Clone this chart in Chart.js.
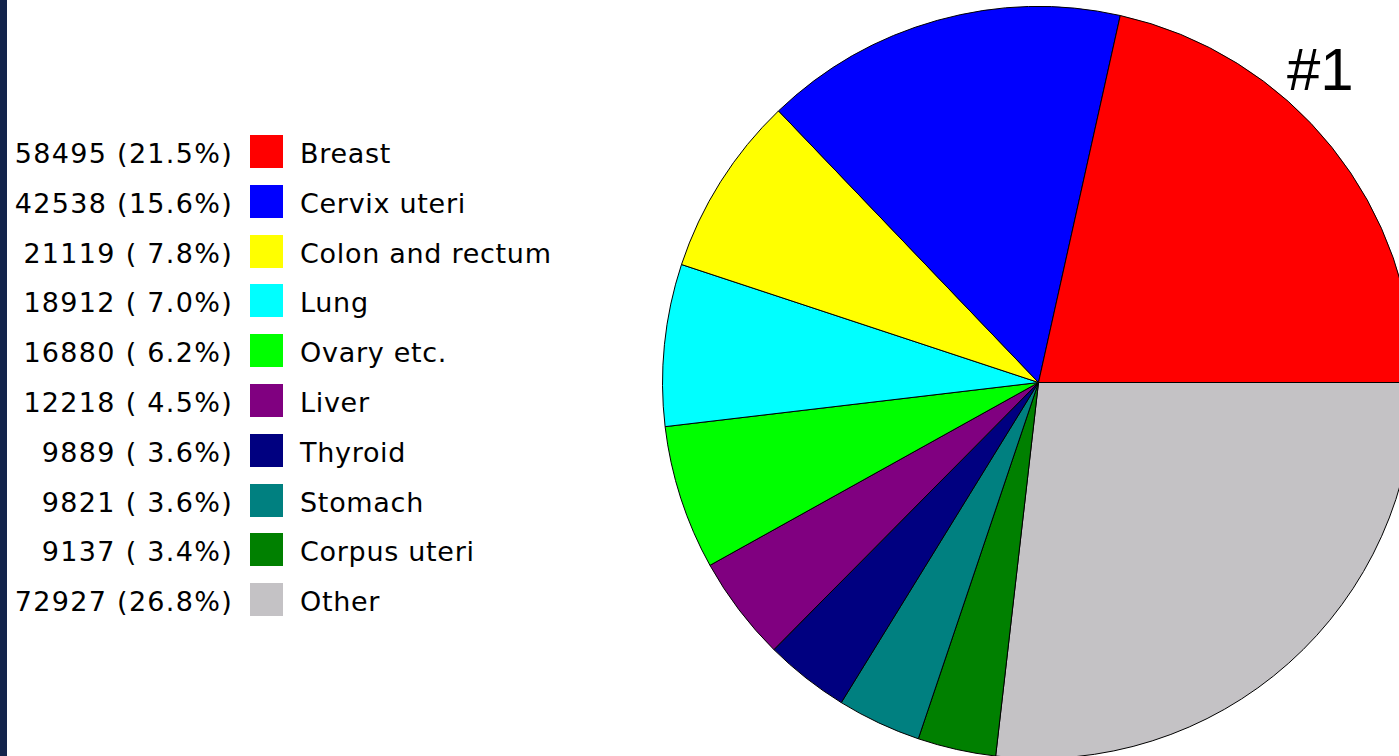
<!DOCTYPE html>
<html>
<head>
<meta charset="utf-8">
<script src="https://cdn.jsdelivr.net/npm/chart.js@4/dist/chart.umd.min.js"></script>
<style>
  html, body { margin:0; padding:0; width:1399px; height:756px; overflow:hidden; background:#ffffff; position:relative; }
  #strip { position:absolute; left:0; top:0; width:7px; height:756px; background:#13244b; }
  #legend { position:absolute; left:0; top:0; }
  .row { position:absolute; left:0; height:34px; width:600px; }
  .val { position:absolute; right:367px; top:2px; line-height:34px; font-family:"DejaVu Sans", Verdana, sans-serif; font-size:27px; white-space:pre; color:#000; letter-spacing:1.3px; }
  .sw { position:absolute; left:250px; top:0; width:33px; height:33px; }
  .lab { position:absolute; left:300px; top:2px; line-height:34px; font-family:"DejaVu Sans", Verdana, sans-serif; font-size:27px; white-space:pre; color:#000; letter-spacing:0.7px; }
  #wrap { position:absolute; left:662px; top:6px; width:753px; height:753px; }
  #tag { position:absolute; left:1287px; top:35px; font-family:"Liberation Sans", Arial, sans-serif; font-size:60px; line-height:70px; color:#000; }
</style>
</head>
<body>
<div id="strip"></div>
<div id="legend"></div>
<div id="wrap"><canvas id="c" width="753" height="753"></canvas></div>
<div id="tag">#1</div>
<script>
const categories = ["Breast","Cervix uteri","Colon and rectum","Lung","Ovary etc.","Liver","Thyroid","Stomach","Corpus uteri","Other"];
const values = [58495, 42538, 21119, 18912, 16880, 12218, 9889, 9821, 9137, 72927];
const percents = ["21.5","15.6","7.8","7.0","6.2","4.5","3.6","3.6","3.4","26.8"];
const colors = ["#ff0000","#0000ff","#ffff00","#00ffff","#00ff00","#800080","#000080","#008080","#008000","#c4c2c5"];

// HTML legend
const legend = document.getElementById('legend');
categories.forEach((name, i) => {
  const row = document.createElement('div');
  row.className = 'row';
  row.style.top = (135 + i * 49.8) + 'px';
  const v = document.createElement('div');
  v.className = 'val';
  v.textContent = values[i] + ' (' + percents[i].padStart(4, ' ') + '%)';
  const sw = document.createElement('div');
  sw.className = 'sw';
  sw.style.background = colors[i];
  const l = document.createElement('div');
  l.className = 'lab';
  l.textContent = name;
  row.appendChild(v); row.appendChild(sw); row.appendChild(l);
  legend.appendChild(row);
});

// Pie drawn counter-clockwise from 3 o'clock: reverse order, start at east
const rLabels = categories.slice().reverse();
const rValues = values.slice().reverse();
const rColors = colors.slice().reverse();

new Chart(document.getElementById('c'), {
  type: 'pie',
  data: {
    labels: rLabels,
    datasets: [{
      data: rValues,
      backgroundColor: rColors,
      borderColor: '#000000',
      borderWidth: 1
    }]
  },
  options: {
    responsive: false,
    animation: false,
    rotation: 90,
    layout: { padding: 0 },
    plugins: { legend: { display: false }, tooltip: { enabled: false } },
    events: []
  }
});
</script>
</body>
</html>
